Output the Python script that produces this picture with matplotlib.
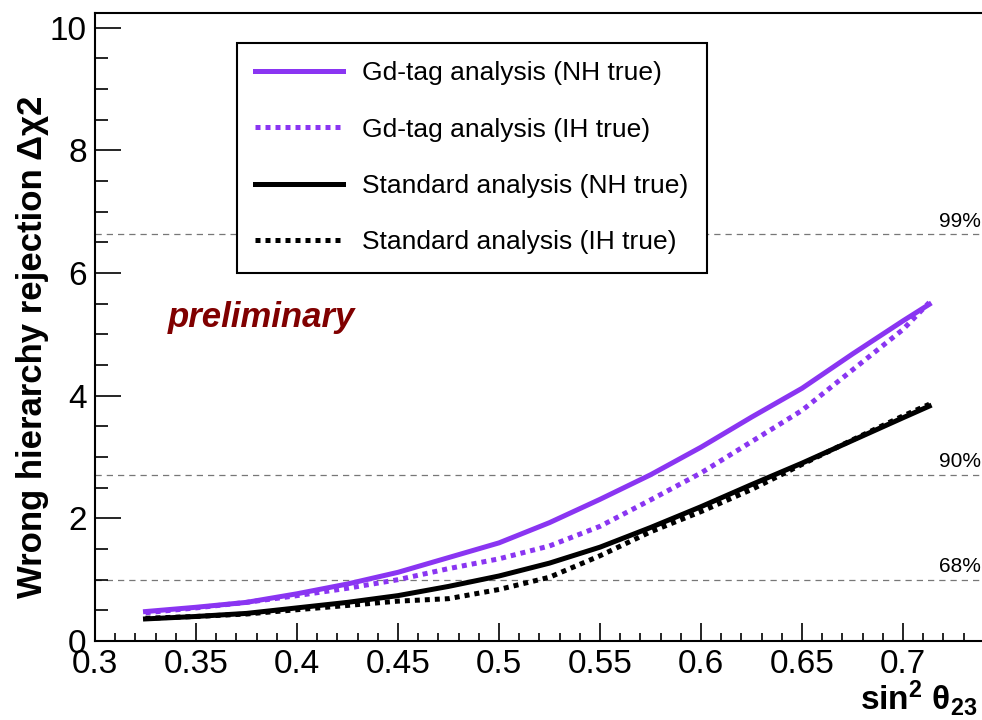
import matplotlib
matplotlib.use("Agg")
import matplotlib.pyplot as plt
import numpy as np

plt.rcParams['font.family'] = ['Liberation Sans', 'DejaVu Sans']
plt.rcParams['mathtext.fontset'] = 'custom'
plt.rcParams['mathtext.rm'] = 'Liberation Sans'
plt.rcParams['mathtext.bf'] = 'Liberation Sans:bold'
plt.rcParams['mathtext.it'] = 'Liberation Sans:italic'

# sin^2 theta23 nodes
sin2 = [0.325, 0.35, 0.375, 0.40, 0.425, 0.45, 0.475, 0.50, 0.525,
        0.55, 0.575, 0.60, 0.625, 0.65, 0.675, 0.70, 0.713]
# wrong hierarchy rejection delta chi2
gd_nh = [0.48, 0.55, 0.63, 0.77, 0.93, 1.12, 1.36, 1.60, 1.93,
         2.31, 2.71, 3.16, 3.65, 4.12, 4.68, 5.22, 5.49]
gd_ih = [0.46, 0.54, 0.63, 0.74, 0.86, 1.00, 1.18, 1.34, 1.55,
         1.87, 2.30, 2.74, 3.25, 3.76, 4.42, 5.08, 5.52]
std_nh = [0.36, 0.40, 0.45, 0.54, 0.63, 0.74, 0.89, 1.06, 1.27,
          1.53, 1.85, 2.19, 2.55, 2.90, 3.27, 3.64, 3.83]
std_ih = [0.37, 0.40, 0.44, 0.51, 0.58, 0.65, 0.69, 0.84, 1.04,
          1.39, 1.78, 2.11, 2.47, 2.88, 3.28, 3.67, 3.86]

cl_levels = [6.63, 2.71, 1.0]
cl_names = ['99%', '90%', '68%']

purple = '#8a35f2'
W, H = 982, 720
fig = plt.figure(figsize=(W/100, H/100), dpi=100)
# axes box in pixels: left 95, bottom spine 641, top 13, right runs off the picture
ax = fig.add_axes([95/W, (H-641)/H, (990-95)/W, (641-13)/H])

lw = 3.6
ax.plot(sin2, gd_nh, color=purple, lw=lw, label='Gd-tag analysis (NH true)')
ax.plot(sin2, gd_ih, color=purple, lw=lw, ls=(0, (1, 1)), label='Gd-tag analysis (IH true)')
ax.plot(sin2, std_nh, color='black', lw=lw, label='Standard analysis (NH true)')
ax.plot(sin2, std_ih, color='black', lw=lw, ls=(0, (1, 1)), label='Standard analysis (IH true)')

for lev, name in zip(cl_levels, cl_names):
    ax.axhline(lev, color='#777777', lw=0.9, ls=(0, (5, 4)), zorder=0)
    ax.text(0.7385, lev + 0.06, name, ha='right', va='bottom', fontsize=15)

ax.text(0.336, 5.28, 'preliminary', color='#800000', fontsize=25,
        fontweight='bold', fontstyle='italic', ha='left', va='center')

ax.set_xlim(0.3, 0.3 + (990-95)/2020)
ax.set_ylim(0, 10.24)
ax.set_xticks(np.arange(0.3, 0.701, 0.05))
ax.set_xticklabels(['0.3', '0.35', '0.4', '0.45', '0.5', '0.55', '0.6', '0.65', '0.7'])
ax.set_xticks(np.arange(0.3, 0.741, 0.01), minor=True)
ax.set_yticks([0, 2, 4, 6, 8, 10])
ax.set_yticks(np.arange(0, 10.01, 0.5), minor=True)
ax.tick_params(axis='both', which='both', direction='in', labelsize=24, width=1.2)
ax.tick_params(axis='y', which='major', length=19, pad=6)
ax.tick_params(axis='y', which='minor', length=9.5)
ax.tick_params(axis='x', which='major', length=13, pad=6)
ax.tick_params(axis='x', which='minor', length=6)
for s in ax.spines.values():
    s.set_linewidth(1.5)

fig.text(33/W, (H-347)/H, 'Wrong hierarchy rejection Δχ2', rotation=90,
         fontsize=25, fontweight='bold', ha='center', va='center')
fig.text(977/W, 2/H, r'$\mathbf{sin^{2}\ \theta_{23}}$', fontsize=24,
         ha='right', va='bottom')

leg = ax.legend(loc='upper left', bbox_to_anchor=(237/W, (H-43)/H),
                bbox_transform=fig.transFigure, fontsize=19, frameon=True,
                fancybox=False, edgecolor='black', framealpha=1,
                handlelength=3.3, handletextpad=0.75, labelspacing=1.22,
                borderpad=0.7, borderaxespad=0)
leg.get_frame().set_linewidth(1.5)

fig.savefig('out.png', dpi=100)
